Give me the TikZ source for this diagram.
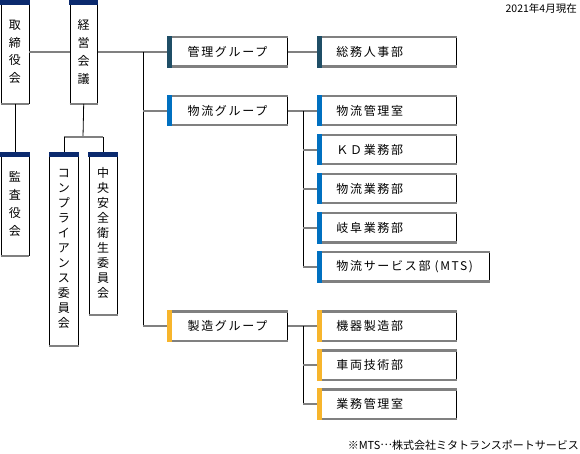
\documentclass[tikz,border=0pt]{standalone}
\usepackage{fontspec}
\setmainfont{Noto Sans CJK JP}
\newfontfamily\spacedfont[LetterSpace=14]{Noto Sans CJK JP}
\usetikzlibrary{positioning}
\definecolor{barnavy}{HTML}{0B2A6E}
\definecolor{linegray}{HTML}{808080}
\definecolor{adminclr}{HTML}{1F4E66}
\definecolor{logclr}{HTML}{0070C0}
\definecolor{mfgclr}{HTML}{F7B52C}
\tikzset{
      vbox/.style={
        draw=black,
        line width=0.9pt,
        fill=white,
        anchor=north west,
        minimum width=28pt,
        inner sep=0pt,
        align=center,
        font=\fontsize{12}{17.7}\selectfont
      },
      grpbox/.style={
        draw=black,
        line width=0.9pt,
        fill=white,
        anchor=west,
        minimum width=120pt,
        minimum height=28.3pt,
        inner sep=0pt,
        font=\spacedfont\fontsize{12}{14}\selectfont
      },
      subbox/.style={
        grpbox,
        minimum width=139pt,
        text width=101pt,
        align=left
      },
      hline/.style={draw=linegray, line width=2.2pt},
      vline/.style={draw=black, line width=0.8pt}
    }
\newcommand\vdeco[1]{%
  \draw[linegray, line width=2.2pt] (#1.south west) -- (#1.south east);
  \fill[barnavy] ([xshift=-0.45pt]#1.north west) rectangle ([xshift=0.45pt,yshift=-5.5pt]#1.north east);}
\newcommand\hdeco[2]{%
  \draw[linegray, line width=2.2pt] (#1.north west) -- (#1.north east);
  \draw[linegray, line width=2.2pt] (#1.south west) -- (#1.south east);
  \fill[#2] ([yshift=1.1pt]#1.north west) rectangle ([xshift=5pt,yshift=-1.1pt]#1.south west);}

\begin{document}
\begin{tikzpicture}[x=1pt,y=-1pt]
    \useasboundingbox[fill=white] (0,0) rectangle (580,454);
    % top level
    \node[vbox, minimum height=103pt] (board) at (0.5,0) {取\\締\\役\\会};
    \node[vbox, minimum height=103pt, minimum width=27.5pt] (mgmt) at (69.5,0) {経\\営\\会\\議};
    \node[vbox, minimum height=103pt] (audit) at (0.5,152) {監\\査\\役\\会};
    \node[vbox, minimum height=193pt, minimum width=29pt, font=\fontsize{12}{15}\selectfont] (compl) at (49,152) {コ\\ン\\プ\\ラ\\イ\\ア\\ン\\ス\\委\\員\\会};
    \node[vbox, minimum height=162pt, font=\fontsize{12}{15}\selectfont] (safety) at (88.7,152) {中\\央\\安\\全\\衛\\生\\委\\員\\会};
    \foreach \n in {board,mgmt,audit,compl,safety} {\vdeco{\n}}
    % groups
    \node[grpbox] (grpAdmin) at (167,52) {管理グループ};
    \node[grpbox] (grpLog) at (167,110.8) {物流グループ};
    \node[grpbox] (grpMfg) at (167,326) {製造グループ};
    \hdeco{grpAdmin}{adminclr}
    \hdeco{grpLog}{logclr}
    \hdeco{grpMfg}{mfgclr}
    % departments
    \node[subbox] (soumu) at (317,52) {総務人事部};
    \node[subbox] (logOffice) at (317,110.8) {物流管理室};
    \node[subbox] (kd) at (317,149.8) {ＫＤ業務部};
    \node[subbox] (logOps) at (317,188.8) {物流業務部};
    \node[subbox] (gifu) at (317,227.8) {岐阜業務部};
    \node[subbox, minimum width=172pt, text width=134pt] (mts) at (317,266.8) {\mbox{物流サービス部 (MTS)}};
    \node[subbox] (equip) at (317,326) {機器製造部};
    \node[subbox] (vehicle) at (317,365) {車両技術部};
    \node[subbox] (opsOffice) at (317,404) {業務管理室};
    \hdeco{soumu}{adminclr}
    \foreach \n in {logOffice,kd,logOps,gifu,mts} {\hdeco{\n}{logclr}}
    \foreach \n in {equip,vehicle,opsOffice} {\hdeco{\n}{mfgclr}}
    % connectors
    \coordinate (trunk) at (143,0);
    \coordinate (cmtJ) at (83,137);
    \coordinate (logBus) at (303,0);
    \draw[hline] (board.east) -- (mgmt.west);
    \draw[hline] (mgmt.east |- grpAdmin.west) -- (grpAdmin.west);
    \draw[vline] (trunk |- grpAdmin.west) -- (trunk |- grpMfg.west);
    \draw[hline] (trunk |- grpLog.west) -- (grpLog.west);
    \draw[hline] (trunk |- grpMfg.west) -- (grpMfg.west);
    \draw[vline] (board.south) -- (audit.north);
    \draw[vline] (mgmt.south) -- (cmtJ);
    \draw[hline] (compl.north |- cmtJ) -- (safety.north |- cmtJ);
    \draw[vline] (compl.north |- cmtJ) -- (compl.north);
    \draw[vline] (safety.north |- cmtJ) -- (safety.north);
    \draw[hline] (grpAdmin.east) -- (soumu.west);
    \draw[hline] (grpLog.east) -- (logOffice.west);
    \draw[vline] (logBus |- logOffice.west) -- (logBus |- mts.west);
    \foreach \n in {kd,logOps,gifu,mts} {\draw[hline] (logBus |- \n.west) -- (\n.west);}
    \draw[hline] (grpMfg.east) -- (equip.west);
    \draw[vline] (logBus |- equip.west) -- (logBus |- opsOffice.west);
    \foreach \n in {vehicle,opsOffice} {\draw[hline] (logBus |- \n.west) -- (\n.west);}
    % notes
    \node[anchor=east, inner sep=0pt, font=\fontsize{10.5}{12}\selectfont] (asof) at (577,9) {2021年4月現在};
    \node[anchor=east, inner sep=0pt, font=\fontsize{11}{13}\selectfont] (mtsnote) at (579,445) {※MTS\raisebox{0.3em}{…}株式会社ミタトランスポートサービス};
\end{tikzpicture}
\end{document}
